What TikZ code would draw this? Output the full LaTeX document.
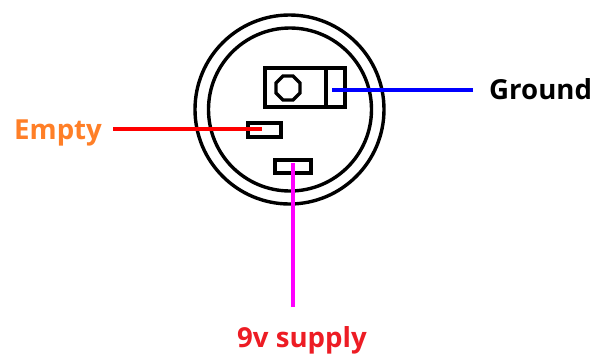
\documentclass[tikz,border=0pt]{standalone}
\usepackage{fontspec}
\setmainfont{Open Sans}
\begin{document}
\begin{tikzpicture}[x=1pt,y=-1pt,
  part/.style={draw=black,line width=3.4pt,fill=none},
  wire/.style={line width=3.6pt},
  lbl/.style={font=\bfseries\fontsize{27.6}{30}\selectfont,inner sep=0pt,anchor=base west}]
\useasboundingbox (0,0) rectangle (600,354);
\fill[white] (0,0) rectangle (600,354);
\draw[part] (289.5,109.5) circle[radius=94.5];
\draw[part] (290,109.5) circle[radius=81.5];
\draw[part] (265,68) rectangle (345,107);
\draw[part] (326,68) -- (326,107);
\draw[part] (288,88) +(-5,-12) -- +(5,-12) -- +(12,-5) -- +(12,5) -- +(5,12) -- +(-5,12) -- +(-12,5) -- +(-12,-5) -- cycle;
\draw[part] (248,123) rectangle (281,137);
\draw[part] (275,160) rectangle (311,173);
\node[lbl,text=black] (ground) at (489,99) {Ground};
\node[lbl,text={rgb,255:red,255;green,127;blue,39}] (empty) at (14,139) {Empty};
\node[lbl,text={rgb,255:red,237;green,28;blue,36}] (supply) at (237,347) {9v supply};
\coordinate (gstart) at (473,90);
\coordinate (gend) at (332,90);
\coordinate (estart) at (113,129);
\coordinate (eend) at (262,129);
\coordinate (sstart) at (293,307);
\coordinate (send) at (293,163);
\draw[wire,blue] (gstart) -- (gend);
\draw[wire,red] (estart) -- (eend);
\draw[wire,color={rgb,255:red,255;green,0;blue,255}] (sstart) -- (send);
\end{tikzpicture}
\end{document}
